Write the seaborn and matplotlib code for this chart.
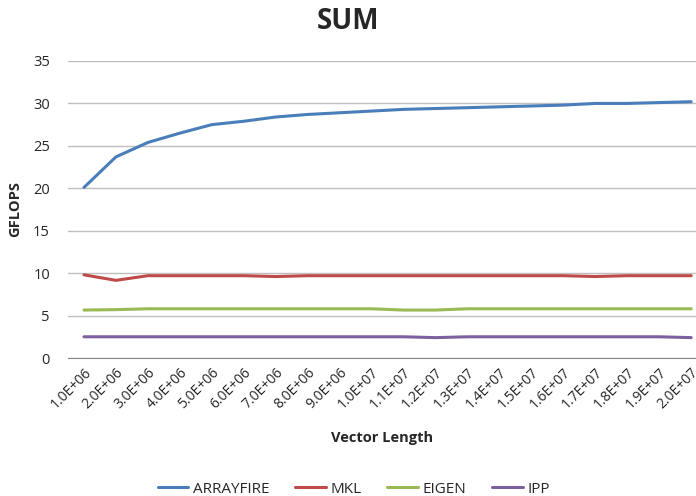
import numpy as np
import pandas as pd
import matplotlib.pyplot as plt
import seaborn as sns

# vector lengths (category labels on x axis)
lengths = ["1.0E+06", "2.0E+06", "3.0E+06", "4.0E+06", "5.0E+06", "6.0E+06", "7.0E+06",
           "8.0E+06", "9.0E+06", "1.0E+07", "1.1E+07", "1.2E+07", "1.3E+07", "1.4E+07",
           "1.5E+07", "1.6E+07", "1.7E+07", "1.8E+07", "1.9E+07", "2.0E+07"]

arrayfire = [20.1, 23.7, 25.4, 26.5, 27.5, 27.9, 28.4, 28.7, 28.9, 29.1,
             29.3, 29.4, 29.5, 29.6, 29.7, 29.8, 30.0, 30.0, 30.1, 30.2]
mkl = [9.8, 9.15, 9.7, 9.7, 9.7, 9.7, 9.6, 9.7, 9.7, 9.7,
       9.7, 9.7, 9.7, 9.7, 9.7, 9.7, 9.6, 9.7, 9.7, 9.7]
eigen = [5.65, 5.7, 5.8, 5.8, 5.8, 5.8, 5.8, 5.8, 5.8, 5.8,
         5.65, 5.65, 5.8, 5.8, 5.8, 5.8, 5.8, 5.8, 5.8, 5.8]
ipp = [2.5, 2.5, 2.5, 2.5, 2.5, 2.5, 2.5, 2.5, 2.5, 2.5,
       2.5, 2.4, 2.5, 2.5, 2.5, 2.5, 2.5, 2.5, 2.5, 2.4]

series = {"ARRAYFIRE": arrayfire, "MKL": mkl, "EIGEN": eigen, "IPP": ipp}
colors = ["#4A7EBB", "#BE4B48", "#98B954", "#7D60A0"]

rows = []
for name, vals in series.items():
    for i, v in enumerate(vals):
        rows.append({"idx": i, "GFLOPS": v, "lib": name})
df = pd.DataFrame(rows)

sns.set_style("white")
plt.rcParams['font.family'] = ['Open Sans', 'DejaVu Sans']

fig = plt.figure(figsize=(6.96, 4.96), dpi=100)
ax = fig.add_axes([68 / 696, 1 - 358 / 496, 1 - 68 / 696, 297 / 496])

sns.lineplot(data=df, x="idx", y="GFLOPS", hue="lib", palette=colors,
             linewidth=2.2, ax=ax, legend=True)

ax.set_ylim(0, 35)
ax.set_xlim(-0.5, 19.15)
ax.set_yticks(np.arange(0, 36, 5))
ax.yaxis.grid(True, color="#BFBFBF", linewidth=1)
ax.set_axisbelow(True)
ax.set_xticks(range(len(lengths)))
ax.set_xticklabels(lengths, rotation=45, ha="right", rotation_mode="anchor", fontsize=10)
ax.tick_params(axis="y", labelsize=10.5, length=0, pad=13)
ax.tick_params(axis="x", length=0, pad=5)
for s in ["top", "right", "left"]:
    ax.spines[s].set_visible(False)
ax.spines["bottom"].set_color("#868686")

ax.set_xlabel("Vector Length", fontsize=10.5, fontweight="bold", labelpad=14)
ax.set_ylabel("GFLOPS", fontsize=10.5, fontweight="bold", labelpad=8)
fig.suptitle("SUM", fontsize=20, fontweight="bold", y=0.985)

leg = ax.legend(loc="upper center", bbox_to_anchor=(0.455, -0.37), ncol=4, frameon=False,
                fontsize=11, handlelength=2.0, columnspacing=1.7, handletextpad=0.3)
for line in leg.get_lines():
    line.set_linewidth(2.2)

fig.savefig("out.png", dpi=100)
